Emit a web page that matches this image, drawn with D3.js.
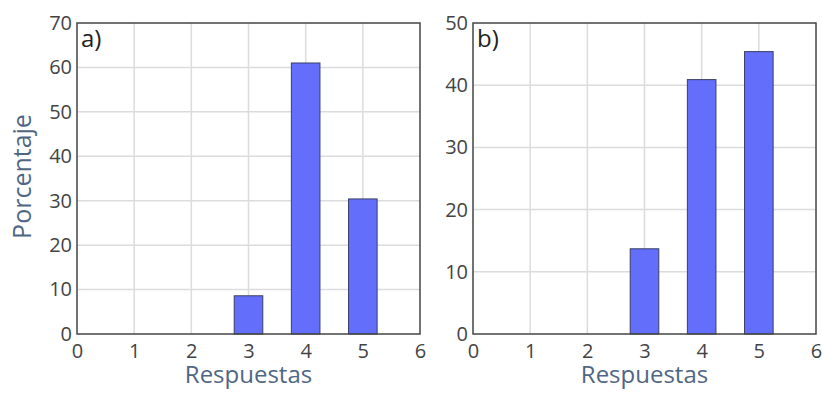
<!DOCTYPE html>
<html>
<head>
<meta charset="utf-8">
<script src="https://cdn.jsdelivr.net/npm/d3@7"></script>
<style>
  html, body { margin: 0; padding: 0; background: #fff; }
  svg { display: block; font-family: "Open Sans", "Noto Sans", sans-serif; }
</style>
</head>
<body>
<svg id="chart" width="822" height="396"></svg>
<script>
// Response categories (Likert scale) and share of answers per panel
const categories = [3, 4, 5];
const valuesA = [8.6, 61.0, 30.4];
const valuesB = [13.7, 40.9, 45.4];
const xTicks = [0, 1, 2, 3, 4, 5, 6];
const yTicksA = [0, 10, 20, 30, 40, 50, 60, 70];
const yTicksB = [0, 10, 20, 30, 40, 50];
const panelLabels = ["a)", "b)"];

const svg = d3.select("#chart");

const panels = [
  { label: panelLabels[0], values: valuesA, yMax: 70, yTicks: yTicksA, left: 77, right: 420, yTitle: "Porcentaje" },
  { label: panelLabels[1], values: valuesB, yMax: 50, yTicks: yTicksB, left: 473, right: 816, yTitle: null }
];

const plotTop = 23, plotBottom = 334;
const barColor = "#636efa";
const barStroke = "#3a3f66";
const gridColor = "#dcdcdc";
const frameColor = "#444";
const tickColor = "#444";
const titleColor = "#506784";

panels.forEach(p => {
  const x = d3.scaleLinear().domain([0, 6]).range([p.left, p.right]);
  const y = d3.scaleLinear().domain([0, p.yMax]).range([plotBottom, plotTop]);
  const g = svg.append("g");

  // grid lines
  g.selectAll(".gx").data(xTicks.slice(1, -1)).join("line")
    .attr("x1", d => x(d)).attr("x2", d => x(d))
    .attr("y1", plotTop).attr("y2", plotBottom)
    .attr("stroke", gridColor).attr("stroke-width", 1.5);
  g.selectAll(".gy").data(p.yTicks.slice(1, -1)).join("line")
    .attr("x1", p.left).attr("x2", p.right)
    .attr("y1", d => y(d)).attr("y2", d => y(d))
    .attr("stroke", gridColor).attr("stroke-width", 1.5);

  // bars
  const bw = x(0.5) - x(0);
  g.selectAll(".bar").data(categories.map((c, i) => ({ c, v: p.values[i] }))).join("rect")
    .attr("x", d => x(d.c) - bw / 2)
    .attr("y", d => y(d.v))
    .attr("width", bw)
    .attr("height", d => y(0) - y(d.v))
    .attr("fill", barColor)
    .attr("stroke", barStroke)
    .attr("stroke-width", 1);

  // frame
  g.append("rect")
    .attr("x", p.left).attr("y", plotTop)
    .attr("width", p.right - p.left).attr("height", plotBottom - plotTop)
    .attr("fill", "none").attr("stroke", frameColor).attr("stroke-width", 1.5);

  // axes (labels only; frame drawn above)
  const xAxis = d3.axisBottom(x).tickValues(xTicks).tickSize(0).tickPadding(10).tickFormat(d3.format("d"));
  const gx = g.append("g").attr("transform", `translate(0,${plotBottom})`).call(xAxis);
  gx.select(".domain").remove();
  gx.selectAll("text").attr("fill", tickColor).attr("font-size", 20)
    .attr("font-family", "'Open Sans', sans-serif");

  const yAxis = d3.axisLeft(y).tickValues(p.yTicks).tickSize(0).tickPadding(5).tickFormat(d3.format("d"));
  const gy = g.append("g").attr("transform", `translate(${p.left},0)`).call(yAxis);
  gy.select(".domain").remove();
  gy.selectAll("text").attr("fill", tickColor).attr("font-size", 20)
    .attr("font-family", "'Open Sans', sans-serif");

  // panel label
  g.append("text")
    .attr("x", p.left + 4).attr("y", plotTop + 24)
    .attr("font-size", 24).attr("fill", "#222")
    .text(p.label);

  // x title
  g.append("text")
    .attr("x", (p.left + p.right) / 2).attr("y", 383)
    .attr("text-anchor", "middle")
    .attr("font-size", 24).attr("fill", titleColor)
    .text("Respuestas");

  if (p.yTitle) {
    g.append("text")
      .attr("transform", `translate(31,${(plotTop + plotBottom) / 2 - 2}) rotate(-90)`)
      .attr("text-anchor", "middle")
      .attr("font-size", 25).attr("fill", titleColor)
      .text(p.yTitle);
  }
});
</script>
</body>
</html>
